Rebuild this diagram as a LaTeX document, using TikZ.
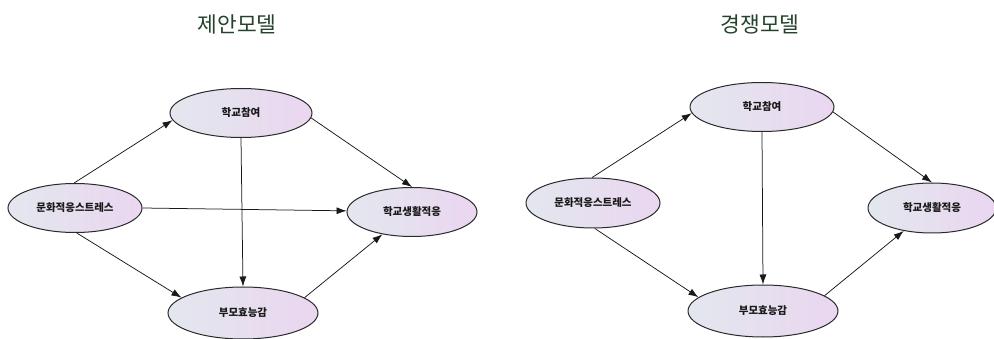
\documentclass[tikz,border=0pt]{standalone}
\usepackage{fontspec}
\newfontfamily\cjk{Noto Sans CJK KR}
\usetikzlibrary{shapes.geometric,arrows.meta}
\definecolor{titlegreen}{HTML}{24432A}
\definecolor{fillL}{HTML}{E3E7EE}
\definecolor{fillR}{HTML}{EAD6F0}
\definecolor{edgecol}{HTML}{2A2A2A}
\tikzset{
  var/.style={ellipse, draw=edgecol, line width=1pt, left color=fillL, right color=fillR,
    inner sep=0pt, font=\cjk\bfseries\fontsize{10.5}{12}\selectfont, text=black!90},
  link/.style={draw=black!90, line width=0.75pt, -{Latex[length=10pt,width=7pt]}},
  ttl/.style={font=\cjk\fontsize{21.5}{24}\selectfont, text=titlegreen}
}
\begin{document}
\begin{tikzpicture}[x=1pt,y=1pt]
\useasboundingbox (0,0) rectangle (994,-339);
% left model
\node[ttl] (t1) at (237,-24) {제안모델};
\node[var, minimum width=142pt, minimum height=49pt] (h1) at (241,-113) {학교참여};
\node[var, minimum width=134pt, minimum height=49pt] (m1) at (75,-208) {문화적응스트레스};
\node[var, minimum width=130pt, minimum height=49pt] (s1) at (412,-212) {학교생활적응};
\node[var, minimum width=150pt, minimum height=52pt] (p1) at (243,-313) {부모효능감};
\draw[link] (m1.92) -- (h1.186);
\draw[link] (m1.0) -- (s1.179);
\draw[link] (h1.-4) -- (s1.90);
\draw[link] (h1.270) -- (p1.90);
\draw[link] (m1.-86) -- (p1.166);
\draw[link] (p1.14) -- (s1.217);
% right model
\node[ttl] (t2) at (760,-24) {경쟁모델};
\node[var, minimum width=144pt, minimum height=49pt] (h2) at (762,-107) {학교참여};
\node[var, minimum width=134pt, minimum height=50pt] (m2) at (593,-203) {문화적응스트레스};
\node[var, minimum width=128pt, minimum height=50pt] (s2) at (932,-208) {학교생활적응};
\node[var, minimum width=150pt, minimum height=52pt] (p2) at (763,-311) {부모효능감};
\draw[link] (m2.92) -- (h2.185);
\draw[link] (h2.-4) -- (s2.90);
\draw[link] (h2.270) -- (p2.90);
\draw[link] (m2.-86) -- (p2.168);
\draw[link] (p2.14) -- (s2.219);
\end{tikzpicture}
\end{document}
